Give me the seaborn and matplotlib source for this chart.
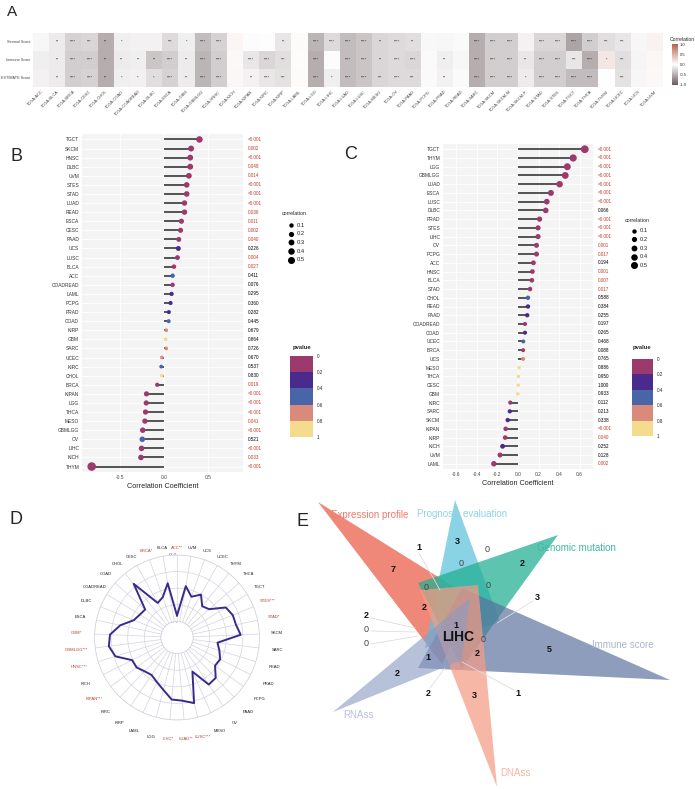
import numpy as np
import pandas as pd
import matplotlib
matplotlib.use("Agg")
import matplotlib.pyplot as plt
import seaborn as sns
from matplotlib.colors import LinearSegmentedColormap, ListedColormap, BoundaryNorm
from matplotlib.cm import ScalarMappable
from matplotlib.patches import Polygon

# =========================================================
# DADOS
# =========================================================
# Painel A - heatmap ESTIMATE
heat_cancers = ["ACC", "BLCA", "BRCA", "CESC", "CHOL", "COAD", "COADREAD", "DLBC", "ESCA", "GBM",
                "GBMLGG", "HNSC", "KICH", "KIPAN", "KIRC", "KIRP", "LAML", "LGG", "LIHC", "LUAD",
                "LUSC", "MESO", "OV", "PAAD", "PCPG", "PRAD", "READ", "SARC", "SKCM", "SKCM-M",
                "SKCM-P", "STAD", "STES", "TGCT", "THCA", "THYM", "UCEC", "UCS", "UVM"]
heat_rows = ["Stromal Score", "Immune Score", "ESTIMATE Score"]
stromal_r = [-0.05, -0.12, -0.28, -0.25, -0.5, -0.1, -0.08, -0.08, -0.22, -0.1,
             -0.4, -0.28, 0.06, -0.02, -0.01, -0.15, 0.03, -0.45, -0.22, -0.4,
             -0.35, -0.25, -0.22, -0.2, -0.04, -0.05, -0.03, -0.5, -0.3, -0.3,
             -0.08, -0.25, -0.25, -0.55, -0.3, -0.2, -0.15, -0.05, 0.08]
immune_r = [-0.1, -0.12, -0.3, -0.3, -0.5, -0.12, -0.1, -0.35, -0.3, -0.12,
            -0.45, -0.3, 0.04, -0.15, -0.25, -0.2, 0.02, -0.5, -0.02, -0.4,
            -0.35, -0.25, -0.22, -0.25, -0.03, -0.1, -0.05, -0.5, -0.3, -0.3,
            -0.15, -0.3, -0.3, -0.15, -0.5, 0.15, -0.2, -0.06, 0.05]
estimate_r = [-0.08, -0.12, -0.3, -0.28, -0.5, -0.1, -0.09, -0.2, -0.28, -0.12,
              -0.45, -0.3, 0.05, -0.08, -0.15, -0.18, 0.03, -0.5, -0.1, -0.4,
              -0.35, -0.25, -0.22, -0.22, -0.03, -0.08, -0.03, -0.5, -0.3, -0.3,
              -0.12, -0.3, -0.3, -0.4, -0.4, 0.0, -0.18, -0.05, 0.04]
stromal_sig = ["", "**", "****", "***", "**", "*", "", "", "***", "*", "****", "****", "", "", "",
               "**", "", "****", "****", "****", "****", "**", "****", "**", "", "", "", "****",
               "****", "****", "", "****", "****", "****", "****", "***", "***", "", ""]
immune_sig = ["", "**", "****", "****", "**", "**", "**", "**", "****", "**", "****", "****", "",
              "****", "****", "***", "", "****", "", "****", "****", "**", "****", "****", "", "**",
              "", "****", "****", "****", "**", "****", "****", "***", "****", "*", "***", "", ""]
estimate_sig = ["", "**", "****", "****", "**", "*", "*", "*", "****", "**", "****", "****", "",
                "**", "****", "***", "", "****", "*", "****", "****", "***", "****", "***", "",
                "**", "", "****", "****", "****", "*", "****", "****", "****", "****", "", "***", "", ""]

# Painel B
b_cancer = ["TGCT", "SKCM", "HNSC", "DLBC", "UVM", "STES", "STAD", "LUAD", "READ", "ESCA", "CESC",
            "PAAD", "UCS", "LUSC", "BLCA", "ACC", "COADREAD", "LAML", "PCPG", "PRAD", "COAD", "KIRP",
            "GBM", "SARC", "UCEC", "KIRC", "CHOL", "BRCA", "KIPAN", "LGG", "THCA", "MESO", "GBMLGG",
            "OV", "LIHC", "KICH", "THYM"]
b_cor = [0.405, 0.31, 0.30, 0.30, 0.285, 0.26, 0.26, 0.235, 0.235, 0.20, 0.19, 0.17, 0.165, 0.155,
         0.115, 0.10, 0.10, 0.088, 0.076, 0.057, 0.055, 0.027, 0.02, 0.027, -0.022, -0.03, -0.022,
         -0.075, -0.197, -0.20, -0.208, -0.215, -0.24, -0.245, -0.253, -0.26, -0.82]
b_pval = ["<0.001", "0.002", "<0.001", "0.048", "0.014", "<0.001", "<0.001", "<0.001", "0.036",
          "0.011", "0.002", "0.040", "0.226", "0.004", "0.027", "0.411", "0.076", "0.295", "0.360",
          "0.282", "0.445", "0.679", "0.864", "0.726", "0.670", "0.537", "0.830", "0.019", "<0.001",
          "<0.001", "<0.001", "0.041", "<0.001", "0.521", "<0.001", "0.033", "<0.001"]

# Painel C
c_cancer = ["TGCT", "THYM", "LGG", "GBMLGG", "LUAD", "ESCA", "LUSC", "DLBC", "PRAD", "STES", "LIHC",
            "OV", "PCPG", "ACC", "HNSC", "BLCA", "STAD", "CHOL", "READ", "PAAD", "COADREAD", "COAD",
            "UCEC", "BRCA", "UCS", "MESO", "THCA", "CESC", "GBM", "KIRC", "SARC", "SKCM", "KIPAN",
            "KIRP", "KICH", "UVM", "LAML"]
c_cor = [0.65, 0.537, 0.48, 0.46, 0.405, 0.32, 0.28, 0.27, 0.21, 0.195, 0.195, 0.18, 0.18, 0.15,
         0.14, 0.135, 0.117, 0.097, 0.097, 0.09, 0.068, 0.068, 0.052, 0.05, 0.05, 0.01, 0.005,
         0.002, -0.002, -0.075, -0.08, -0.1, -0.12, -0.125, -0.15, -0.175, -0.235]
c_pval = ["<0.001", "<0.001", "<0.001", "<0.001", "<0.001", "<0.001", "<0.001", "0.066", "<0.001",
          "<0.001", "<0.001", "0.001", "0.017", "0.194", "0.001", "0.007", "0.017", "0.588", "0.384",
          "0.255", "0.197", "0.265", "0.468", "0.088", "0.765", "0.886", "0.950", "1.000", "0.933",
          "0.112", "0.213", "0.338", "<0.001", "0.040", "0.252", "0.128", "0.002"]

# Painel D - radar
radar_cancer = ["ACC", "BLCA", "BRCA", "CESC", "CHOL", "COAD", "COADREAD", "DLBC", "ESCA", "GBM",
                "GBMLGG", "HNSC", "KICH", "KIPAN", "KIRC", "KIRP", "LAML", "LGG", "LIHC", "LUAD",
                "LUSC", "MESO", "OV", "PAAD", "PCPG", "PRAD", "READ", "SARC", "SKCM", "STAD", "STES",
                "TGCT", "THCA", "THYM", "UCEC", "UCS", "UVM"]
radar_stars = {"ACC": "**", "BRCA": "*", "GBM": "*", "GBMLGG": "***", "HNSC": "***", "KIPAN": "***",
               "LIHC": "*", "LUAD": "**", "LUSC": "***", "STAD": "*", "STES": "***"}
radar_val = [-0.33, 0.069, -0.079, -0.117, 0.238, -0.083, -0.068, -0.034, 0.105, 0.214, 0.234,
             0.182, 0.012, 0.012, -0.03, -0.048, -0.005, 0.058, 0.156, 0.17, 0.223, -0.143, 0.09,
             0.08, -0.024, -0.012, -0.06, -0.102, 0.174, 0.133, 0.13, 0.096, -0.078, -0.11, -0.002,
             -0.073, 0.034]

# Painel E - diagrama de Venn (6 conjuntos)
venn_sets = ["Expression profile", "Prognosis evaluation", "Genomic mutation",
             "Immune score", "DNAss", "RNAss"]
venn_counts = [1, 3, 0, 7, 0, 2, 0, 0, 3, 2, 2, 0, 0, 1, 0, 2, 5, 1, 2, 2, 3, 1]

# =========================================================
# LAYOUT
# =========================================================
W, H = 695, 789
sns.set_style("white")
plt.rcParams['font.family'] = ['Liberation Sans', 'DejaVu Sans']

fig = plt.figure(figsize=(W / 100, H / 100), dpi=100)


def px_rect(x0, y0, x1, y1):
    return [x0 / W, 1 - y1 / H, (x1 - x0) / W, (y1 - y0) / H]


ov = fig.add_axes([0, 0, 1, 1])
ov.set_xlim(0, W)
ov.set_ylim(H, 0)
ov.axis('off')

for lab, (x, y, fs) in {"A": (12, 12, 11), "B": (17, 156, 13), "C": (351, 154, 13),
                        "D": (16, 519, 13), "E": (302, 521, 13)}.items():
    ov.text(x, y, lab, fontsize=fs, ha='center', va='center')

RED = '#c0392b'
P_COLORS = ['#9c3a6e', '#4a2a8c', '#4865a8', '#da8a7a', '#f4db8e']
P_BINS = ["b0", "b1", "b2", "b3", "b4"]
S_MIN, S_MAX = 6.2, 45.0

# =========================================================
# A: HEATMAP
# =========================================================
heat_df = pd.DataFrame([stromal_r, immune_r, estimate_r], index=heat_rows, columns=heat_cancers)
sig_df = pd.DataFrame([stromal_sig, immune_sig, estimate_sig], index=heat_rows, columns=heat_cancers)
cmap_a = LinearSegmentedColormap.from_list("estimate", ["#6b5a5d", "#ffffff", "#b4624b"])

ax_a = fig.add_axes(px_rect(33, 33, 663, 87))
cax_a = fig.add_axes(px_rect(672, 44, 678, 85))
sns.heatmap(heat_df, cmap=cmap_a, vmin=-1, vmax=1, annot=sig_df, fmt='',
            annot_kws={'size': 2.8, 'color': '#222222'}, cbar_ax=cax_a, ax=ax_a,
            xticklabels=True, yticklabels=True)
ax_a.set_xticklabels(["TCGA-" + c for c in heat_cancers], rotation=45, ha='right',
                     rotation_mode='anchor', fontsize=2.9, color='#444444')
ax_a.set_yticklabels(heat_rows, rotation=0, fontsize=2.7, color='#444444')
ax_a.tick_params(axis='both', length=1.0, width=0.3, pad=0.8, color='#666666')
ax_a.set_xlabel('')
ax_a.set_ylabel('')
cax_a.set_yticks([-1, -0.5, 0, 0.5, 1])
cax_a.set_yticklabels(["-1.0", "-0.5", "0.0", "0.5", "1.0"])
cax_a.tick_params(labelsize=3, length=0, pad=1.5)
ov.text(670, 39, "Correlation", fontsize=3.6, va='center')


# =========================================================
# B e C: LOLLIPOP
# =========================================================
def lollipop(rect, cancers, cors, pvals, xlim, xticks, xticklabels):
    ax = fig.add_axes(rect)
    n = len(cancers)
    ypos = np.arange(n)
    cors = np.array(cors)
    pnum = np.array([0.0005 if p.startswith('<') else float(p) for p in pvals])
    pbin = np.minimum((pnum / 0.2).astype(int), 4)
    d = pd.DataFrame({'cor': cors, 'y': ypos, 'abs': np.abs(cors),
                      'bin': [P_BINS[b] for b in pbin]})
    ax.set_facecolor('#f4f4f4')
    ax.grid(True, color='white', lw=0.6)
    ax.set_axisbelow(True)
    ax.hlines(ypos, 0, cors, color='#262626', lw=1.1, zorder=2)
    sns.scatterplot(data=d, x='cor', y='y', hue='bin', hue_order=P_BINS,
                    palette=dict(zip(P_BINS, P_COLORS)), size='abs', sizes=(S_MIN, S_MAX),
                    size_norm=(0, 1), legend=False, linewidth=0, ax=ax, zorder=3)
    ax.set_yticks(ypos)
    ax.set_yticklabels(cancers, fontsize=3.5, color='#333333')
    ax.set_ylim(n - 1 + 0.6, -0.6)
    ax.set_xlim(*xlim)
    ax.set_xticks(xticks)
    ax.set_xticklabels(xticklabels, fontsize=3.5, color='#444444')
    ax.tick_params(length=0, pad=2)
    ax.set_xlabel('Correlation Coefficient', fontsize=5.2, labelpad=2)
    ax.set_ylabel('')
    for s in ax.spines.values():
        s.set_visible(False)
    for i, (p, pn) in enumerate(zip(pvals, pnum)):
        ax.text(1.03, i, p, transform=ax.get_yaxis_transform(), fontsize=3.3,
                color=RED if pn < 0.05 else 'black', va='center', ha='left')
    return ax


lollipop(px_rect(82, 134, 243, 472), b_cancer, b_cor, b_pval, (-0.93, 0.9),
         [-0.5, 0.0, 0.5], ["-0.5", "0.0", "0.5"])
lollipop(px_rect(443, 144, 593, 469), c_cancer, c_cor, c_pval, (-0.73, 0.73),
         [-0.6, -0.4, -0.2, 0.0, 0.2, 0.4, 0.6],
         ["-0.6", "-0.4", "-0.2", "0.0", "0.2", "0.4", "0.6"])


def size_legend(x, y_title, y0, dy):
    ov.text(x, y_title, 'correlation', fontsize=3.8, va='center')
    for k, v in enumerate([0.1, 0.2, 0.3, 0.4, 0.5]):
        ov.scatter(x + 8.5, y0 + k * dy, s=S_MIN + (S_MAX - S_MIN) * v, color='black', lw=0)
        ov.text(x + 14.5, y0 + k * dy, f'{v}', fontsize=4.2, va='center')


def pvalue_legend(x0, y0, x1, y1, title_x, title_y):
    ov.text(title_x, title_y, 'pvalue', fontsize=4.2, fontweight='bold', ha='center', va='center')
    cax = fig.add_axes(px_rect(x0, y0, x1, y1))
    sm = ScalarMappable(norm=BoundaryNorm([0, 0.2, 0.4, 0.6, 0.8, 1], 5),
                        cmap=ListedColormap(P_COLORS))
    cb = fig.colorbar(sm, cax=cax)
    cb.outline.set_visible(False)
    cax.invert_yaxis()
    cb.set_ticks([0, 0.2, 0.4, 0.6, 0.8, 1])
    cb.set_ticklabels(["0", "0.2", "0.4", "0.6", "0.8", "1"])
    cax.tick_params(labelsize=3.3, length=0, pad=2.5)


size_legend(282, 213, 225, 8.7)
pvalue_legend(290, 356, 313, 437, 301.7, 347)
size_legend(625, 220, 230.7, 8.65)
pvalue_legend(632, 358.7, 653, 436, 642, 347.5)

# =========================================================
# D: RADAR
# =========================================================
cx, cy, R = 177, 637.5, 82.5
ax_d = fig.add_axes(px_rect(cx - R, cy - R, cx + R, cy + R), projection='polar')
n_r = len(radar_cancer)
theta = np.arange(n_r) * 2 * np.pi / n_r
ax_d.set_theta_zero_location('N')
ax_d.set_theta_direction(1)
ax_d.set_ylim(-0.4, 0.4)
ax_d.set_rorigin(-0.594)
ax_d.set_thetagrids(np.degrees(theta), labels=[''] * n_r)
ax_d.set_rgrids([-0.4, -0.2, 0, 0.2, 0.4], labels=[''] * 5)
ax_d.grid(color='#d3d3df', lw=0.5)
for s in ax_d.spines.values():
    s.set_color('#d3d3df')
    s.set_linewidth(0.5)
ax_d.plot(np.append(theta, theta[0]), np.append(radar_val, radar_val[0]),
          color='#3b2a8c', lw=1.4)
for t, c in zip(theta, radar_cancer):
    r_px = 89 + 5 * abs(np.sin(t)) + 12 * (1 - np.cos(t)) / 2
    lab = c + radar_stars.get(c, "")
    ax_d.text(t, -0.594 + r_px / R, lab, fontsize=3, ha='center', va='center',
              color=RED if c in radar_stars else '#222222', clip_on=False)
for v, lab in zip([0.4, 0.2, 0, -0.2, -0.4], ["0.4", "0.2", "0", "-0.2", "-0.4"]):
    ov.text(172.5, cy - (v + 0.594) * R, lab, fontsize=4.2, color='#a65aa8',
            ha='center', va='center')

# =========================================================
# E: VENN
# =========================================================
venn_tri = [[(318, 502), (472, 598), (442, 664)],
            [(455, 500), (425, 648), (500, 622)],
            [(558, 535), (418, 583), (462, 668)],
            [(670, 680), (462, 588), (418, 668)],
            [(497, 787), (420, 590), (478, 585)],
            [(333, 712), (470, 598), (462, 660)]]
venn_fill = [('#ec6e5c', 0.82), ('#5cc3dc', 0.72), ('#1eae92', 0.72),
             ('#5a6f9c', 0.68), ('#f39c86', 0.72), ('#8d9cc4', 0.62)]
venn_label_pos = [(370, 515), (462, 514), (576, 548), (623, 645), (515, 773), (358, 715)]
venn_label_col = ['#f07a6a', '#8ed3e8', '#3fb9a2', '#a9b5cf', '#f5b2a2', '#b6c0d9']

for tri, (fc, a) in zip(venn_tri, venn_fill):
    ov.add_patch(Polygon(tri, closed=True, fc=fc, alpha=a, lw=0))

for (x0, y0, x1, y1) in [(419, 553, 440, 590), (371, 618, 415, 628), (371, 631, 415, 632),
                         (371, 644, 418, 636), (533, 601, 497, 623), (514, 690, 462, 662),
                         (430, 688, 445, 668)]:
    ov.plot([x0, x1], [y0, y1], color='#dddddd', lw=0.6)

for name, (x, y), col in zip(venn_sets, venn_label_pos, venn_label_col):
    ov.text(x, y, name, fontsize=7, color=col, ha='center', va='center')

count_pos = [(419, 548), (457, 542), (487, 549), (393, 570), (461, 564), (522, 563), (426, 587),
             (488, 585), (537, 598), (424, 608), (366, 616), (366, 630), (366, 643), (456, 625),
             (483, 639), (477, 653), (549, 649), (428, 658), (397, 674), (428, 693), (474, 696),
             (518, 693)]
for (x, y), v in zip(count_pos, venn_counts):
    ov.text(x, y, str(v), fontsize=6.5, fontweight='bold' if v else 'normal',
            color='#111111' if v else '#444444', ha='center', va='center')
ov.text(458, 637, "LIHC", fontsize=10, fontweight='bold', ha='center', va='center', color='#111111')

fig.savefig('out.png', dpi=100)
